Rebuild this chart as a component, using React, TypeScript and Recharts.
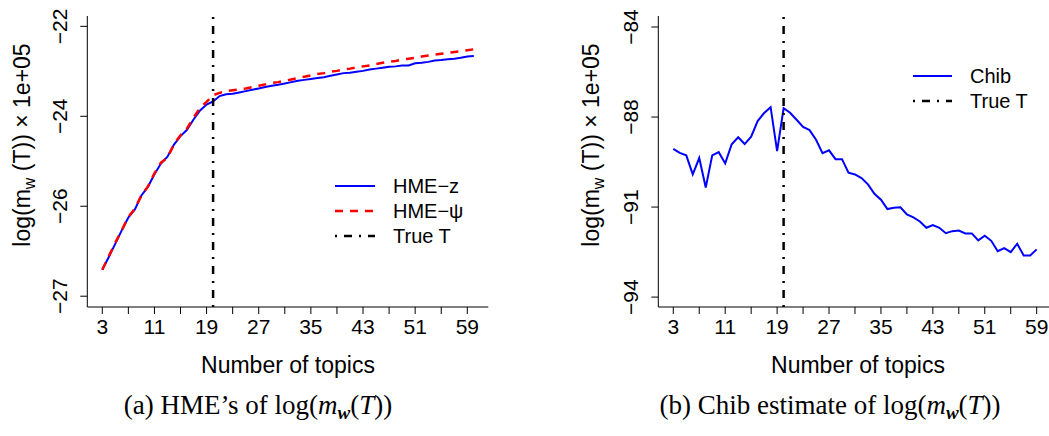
import React from 'react';
import { LineChart, Line, XAxis, YAxis, ReferenceLine, Legend } from 'recharts';

// ---------- data ----------
const topicsA = [3, 4, 5, 6, 7, 8, 9, 10, 11, 12, 13, 14, 15, 16, 17, 18, 19, 20, 21, 22, 23, 24, 25, 26, 27, 28, 29, 30, 31, 32, 33, 34, 35, 36, 37, 38, 39, 40, 41, 42, 43, 44, 45, 46, 47, 48, 49, 50, 51, 52, 53, 54, 55, 56, 57, 58, 59, 60];
const hmeZ = [
  -27.41, -27.13, -26.83, -26.53, -26.25, -26.07, -25.76, -25.57, -25.29, -25.05, -24.9, -24.63, -24.44, -24.3, -24.07, -23.87, -23.74, -23.67,
  -23.55, -23.51, -23.5, -23.47, -23.44, -23.41, -23.38, -23.35, -23.32, -23.3,
  -23.27, -23.24, -23.21, -23.19, -23.17, -23.15, -23.13, -23.1, -23.07, -23.04,
  -23.03, -23.01, -22.99, -22.96, -22.94, -22.92, -22.9, -22.89, -22.87, -22.87,
  -22.82, -22.81, -22.79, -22.76, -22.75, -22.73, -22.72, -22.7, -22.67, -22.66,
];
const hmePsi = [
  -27.41, -27.11, -26.81, -26.53, -26.24, -26.05, -25.76, -25.56, -25.27, -25.03, -24.92, -24.62, -24.42, -24.27, -24.03, -23.81, -23.68, -23.53,
  -23.48, -23.44, -23.42, -23.4, -23.38, -23.35, -23.32, -23.29, -23.26, -23.24,
  -23.21, -23.18, -23.15, -23.12, -23.09, -23.06, -23.04, -23.01, -22.99, -22.96,
  -22.94, -22.91, -22.89, -22.87, -22.84, -22.81, -22.79, -22.77, -22.74, -22.72,
  -22.7, -22.67, -22.65, -22.63, -22.61, -22.59, -22.57, -22.55, -22.53, -22.51,
];

const topicsB = [3, 4, 5, 6, 7, 8, 9, 10, 11, 12, 13, 14, 15, 16, 17, 18, 19, 20, 21, 22, 23, 24, 25, 26, 27, 28, 29, 30, 31, 32, 33, 34, 35, 36, 37, 38, 39, 40, 41, 42, 43, 44, 45, 46, 47, 48, 49, 50, 51, 52, 53, 54, 55, 56, 57, 58, 59];
const chib = [
  -89.41, -89.59, -89.7, -90.55, -89.82, -91.13, -89.7, -89.56, -90.06, -89.21,
  -88.9, -89.2, -88.87, -88.18, -87.82, -87.56, -89.51, -87.61, -87.81, -88.12,
  -88.44, -88.58, -89.01, -89.61, -89.48, -89.87, -89.87, -90.47, -90.55, -90.71,
  -90.99, -91.41, -91.67, -92.09, -92.03, -92.01, -92.33, -92.46, -92.64, -92.92,
  -92.8, -92.92, -93.16, -93.07, -93.04, -93.17, -93.17, -93.48, -93.27, -93.5,
  -93.96, -93.82, -94.0, -93.63, -94.15, -94.15, -93.88,
];

const trueT = 20;

const xTicks = [3, 7, 11, 15, 19, 23, 27, 31, 35, 39, 43, 47, 51, 55, 59];
const xTickLabels = ['3', '', '11', '', '19', '', '27', '', '35', '', '43', '', '51', '', '59'];

const yTicksA = [-22, -24, -26, -28];
const yTickLabelsA = ['\u221222', '\u221224', '\u221226', '\u221227'];
const yTicksB = [-84, -88, -92, -96];
const yTickLabelsB = ['\u221284', '\u221288', '\u221291', '\u221294'];

const legendA = ['HME\u2212z', 'HME\u2212\u03c8', 'True T'];
const legendB = ['Chib', 'True T'];

// ---------- styles ----------
const SANS = "'Liberation Sans', Arial, Helvetica, sans-serif";
const SERIF = "'Liberation Serif', 'Times New Roman', serif";
const BLUE = '#0000ff';
const RED = '#ff0000';
const DOTDASH = '2 7 8 7';
const DASHED = '8 7';
const TICK_FS = 21;
const TITLE_FS = 23;

const xDomainA: [number, number] = [0.7, 62.22];
const yDomainA: [number, number] = [-28.24, -21.77];
const xDomainB: [number, number] = [0.69, 61.3];
const yDomainB: [number, number] = [-96.44, -83.51];

const dataA = topicsA.map((t, i) => ({ t, z: hmeZ[i], psi: hmePsi[i] }));
const dataB = topicsB.map((t, i) => ({ t, chib: chib[i] }));

const XTick = (props: any) => {
  const { x, y, payload } = props;
  const idx = xTicks.indexOf(payload.value);
  const label = idx >= 0 ? xTickLabels[idx] : '';
  return (
    <text x={x} y={y + 18} textAnchor="middle" fontSize={TICK_FS} fontFamily={SANS} fill="#000">
      {label}
    </text>
  );
};

const makeYTick = (ticks: number[], labels: string[]) => (props: any) => {
  const { x, y, payload } = props;
  const idx = ticks.indexOf(payload.value);
  const label = idx >= 0 ? labels[idx] : '';
  const xb = x - 11;
  return (
    <text
      x={xb}
      y={y}
      transform={`rotate(-90, ${xb}, ${y})`}
      textAnchor="middle"
      fontSize={TICK_FS}
      fontFamily={SANS}
      fill="#000"
    >
      {label}
    </text>
  );
};

const YTickA = makeYTick(yTicksA, yTickLabelsA);
const YTickB = makeYTick(yTicksB, yTickLabelsB);

const LegendA = () => (
  <svg width={160} height={80} style={{ overflow: 'visible' }}>
    <line x1={5} x2={45} y1={16} y2={16} stroke={BLUE} strokeWidth={2} />
    <line x1={5} x2={45} y1={41} y2={41} stroke={RED} strokeWidth={2.5} strokeDasharray={DASHED} />
    <line x1={5} x2={45} y1={66} y2={66} stroke="#000" strokeWidth={2.5} strokeDasharray={DOTDASH} />
    {legendA.map((s, i) => (
      <text key={s} x={63} y={16 + 25 * i + 7} fontSize={20} fontFamily={SANS} fill="#000">
        {s}
      </text>
    ))}
  </svg>
);

const LegendB = () => (
  <svg width={150} height={60} style={{ overflow: 'visible' }}>
    <line x1={5} x2={44} y1={16} y2={16} stroke={BLUE} strokeWidth={2} />
    <line x1={5} x2={44} y1={41} y2={41} stroke="#000" strokeWidth={2.5} strokeDasharray={DOTDASH} />
    {legendB.map((s, i) => (
      <text key={s} x={62} y={16 + 25 * i + 7} fontSize={20} fontFamily={SANS} fill="#000">
        {s}
      </text>
    ))}
  </svg>
);

const axisLine = { stroke: '#000', strokeWidth: 1 };
const tickLine = { stroke: '#000', strokeWidth: 1 };

const YTitle = ({ x, y }: { x: number; y: number }) => (
  <text
    x={x}
    y={y}
    transform={`rotate(-90, ${x}, ${y})`}
    textAnchor="middle"
    fontSize={TITLE_FS}
    fontFamily={SANS}
    fill="#000"
  >
    <tspan>log(m</tspan>
    <tspan fontSize={16} dy={5}>w</tspan>
    <tspan dy={-5}> (T)) × 1e+05</tspan>
  </text>
);

const Caption = ({ x, y, prefix }: { x: number; y: number; prefix: string }) => (
  <text x={x} y={y} textAnchor="middle" fontSize={27} fontFamily={SERIF} fill="#000">
    <tspan>{prefix}log(</tspan>
    <tspan fontStyle="italic">m</tspan>
    <tspan fontStyle="italic" fontWeight="bold" fontSize={19} dy={5}>w</tspan>
    <tspan dy={-5}>(</tspan>
    <tspan fontStyle="italic">T</tspan>
    <tspan>))</tspan>
  </text>
);

export default function App() {
  return (
    <div
      style={{
        position: 'fixed',
        left: 0,
        top: 0,
        width: 1049,
        height: 436,
        overflow: 'hidden',
        background: '#fff',
      }}
    >
      {/* Left panel */}
      <div style={{ position: 'absolute', left: 0, top: 0 }}>
        <LineChart
          width={500}
          height={350}
          data={dataA}
          margin={{ top: 16, left: 27.3, right: 11.7, bottom: 13 }}
        >
          <XAxis
            dataKey="t"
            type="number"
            domain={xDomainA}
            ticks={xTicks}
            allowDataOverflow
            height={30}
            tickSize={7}
            tickMargin={2}
            axisLine={axisLine}
            tickLine={tickLine}
            tick={<XTick />}
            interval={0}
          />
          <XAxis
            xAxisId="top"
            orientation="top"
            type="number"
            domain={xDomainA}
            allowDataOverflow
            height={0}
            tick={false}
            tickLine={false}
            axisLine={axisLine}
          />
          <YAxis
            type="number"
            domain={yDomainA}
            ticks={yTicksA}
            allowDataOverflow
            width={60}
            tickSize={7}
            tickMargin={2}
            axisLine={axisLine}
            tickLine={tickLine}
            tick={<YTickA />}
            interval={0}
          />
          <YAxis
            yAxisId="right"
            orientation="right"
            type="number"
            domain={yDomainA}
            allowDataOverflow
            width={0}
            tick={false}
            tickLine={false}
            axisLine={axisLine}
          />
          <Legend
            layout="horizontal"
            verticalAlign="middle"
            align="center"
            content={<LegendA />}
            wrapperStyle={{ left: 330, top: 170, width: 160, height: 80 }}
          />
          <Line
            dataKey="z"
            stroke={BLUE}
            strokeWidth={2}
            dot={false}
            activeDot={false}
            isAnimationActive={false}
          />
          <Line
            dataKey="psi"
            stroke={RED}
            strokeWidth={2.5}
            strokeDasharray={DASHED}
            dot={false}
            activeDot={false}
            isAnimationActive={false}
          />
          <ReferenceLine x={trueT} stroke="#000" strokeWidth={2.5} strokeDasharray={DOTDASH} />
        </LineChart>
      </div>

      {/* Right panel */}
      <div style={{ position: 'absolute', left: 600, top: 0 }}>
        <LineChart
          width={460}
          height={350}
          data={dataB}
          margin={{ top: 16, left: 18.3, right: 8.4, bottom: 13 }}
        >
          <XAxis
            dataKey="t"
            type="number"
            domain={xDomainB}
            ticks={xTicks}
            allowDataOverflow
            height={30}
            tickSize={7}
            tickMargin={2}
            axisLine={axisLine}
            tickLine={tickLine}
            tick={<XTick />}
            interval={0}
          />
          <XAxis
            xAxisId="top"
            orientation="top"
            type="number"
            domain={xDomainB}
            allowDataOverflow
            height={0}
            tick={false}
            tickLine={false}
            axisLine={axisLine}
          />
          <YAxis
            type="number"
            domain={yDomainB}
            ticks={yTicksB}
            allowDataOverflow
            width={40}
            tickSize={7}
            tickMargin={2}
            axisLine={axisLine}
            tickLine={tickLine}
            tick={<YTickB />}
            interval={0}
          />
          <YAxis
            yAxisId="right"
            orientation="right"
            type="number"
            domain={yDomainB}
            allowDataOverflow
            width={0}
            tick={false}
            tickLine={false}
            axisLine={axisLine}
          />
          <Legend
            layout="horizontal"
            verticalAlign="middle"
            align="center"
            content={<LegendB />}
            wrapperStyle={{ left: 308, top: 60, width: 150, height: 60 }}
          />
          <Line
            dataKey="chib"
            stroke={BLUE}
            strokeWidth={2}
            dot={false}
            activeDot={false}
            isAnimationActive={false}
          />
          <ReferenceLine x={trueT} stroke="#000" strokeWidth={2.5} strokeDasharray={DOTDASH} />
        </LineChart>
      </div>

      {/* Titles and captions */}
      <svg
        width={1049}
        height={436}
        style={{ position: 'absolute', left: 0, top: 0, pointerEvents: 'none' }}
      >
        <YTitle x={30} y={145} />
        <YTitle x={599} y={145} />
        <text x={288} y={373} textAnchor="middle" fontSize={TITLE_FS} fontFamily={SANS} fill="#000">
          Number of topics
        </text>
        <text x={858} y={373} textAnchor="middle" fontSize={TITLE_FS} fontFamily={SANS} fill="#000">
          Number of topics
        </text>
        <Caption x={258} y={414} prefix={'(a)  HME\u2019s of '} />
        <Caption x={830} y={414} prefix={'(b)  Chib estimate of '} />
      </svg>
    </div>
  );
}
